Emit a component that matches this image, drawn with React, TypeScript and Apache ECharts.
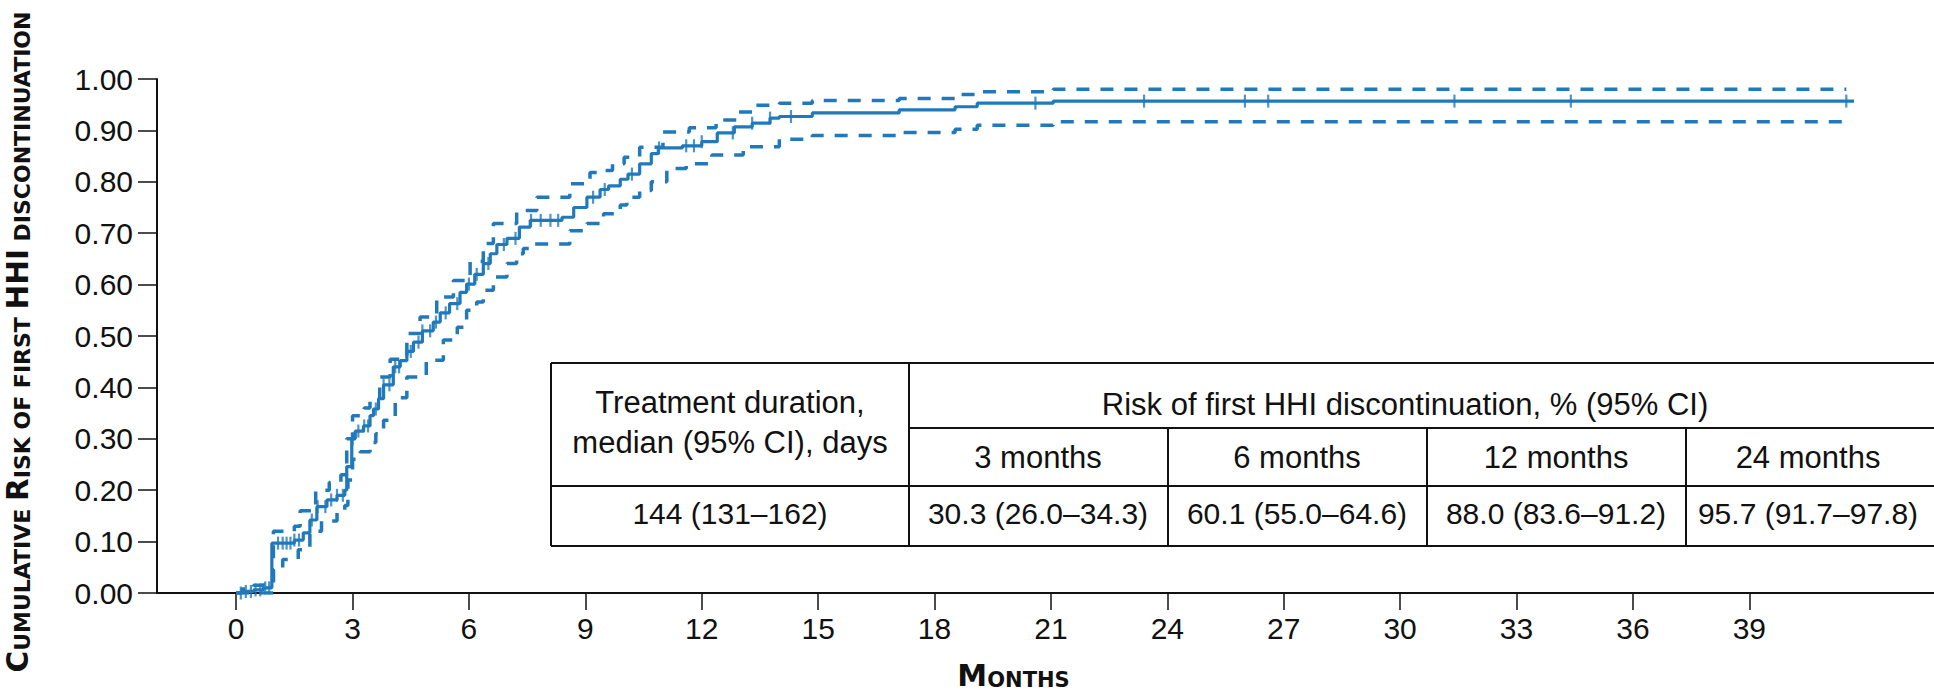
import { useEffect, useRef } from "react";
import * as echarts from "echarts";

// ---- data ----
const xTicks = [0, 3, 6, 9, 12, 15, 18, 21, 24, 27, 30, 33, 36, 39];

// cumulative risk estimate: [month, value after the step]
const estimate: [number, number][] = [
  [0, 0], [0.15, 0.003], [0.45, 0.006], [0.7, 0.01], [0.92, 0.097], [1.5, 0.103],
  [1.73, 0.117], [1.9, 0.142], [2.08, 0.168], [2.34, 0.181], [2.6, 0.19], [2.8, 0.2],
  [2.85, 0.246], [2.98, 0.3], [3.07, 0.315], [3.28, 0.325], [3.45, 0.345], [3.54, 0.358],
  [3.67, 0.378], [3.8, 0.405], [4.05, 0.44], [4.23, 0.452], [4.4, 0.47], [4.57, 0.488],
  [4.8, 0.51], [5.08, 0.527], [5.26, 0.545], [5.5, 0.563], [5.77, 0.585], [5.94, 0.601],
  [6.15, 0.62], [6.37, 0.641], [6.55, 0.66], [6.72, 0.678], [6.98, 0.69], [7.3, 0.712],
  [7.58, 0.725], [8.4, 0.731], [8.7, 0.75], [9.04, 0.77], [9.38, 0.785], [9.6, 0.792],
  [9.9, 0.805], [10.1, 0.815], [10.4, 0.835], [10.7, 0.855], [10.88, 0.866], [11.5, 0.87],
  [12.0, 0.878], [12.4, 0.895], [12.84, 0.907], [13.3, 0.914], [13.76, 0.924], [14.0, 0.927],
  [14.85, 0.934], [17.09, 0.94], [18.53, 0.946], [19.1, 0.953], [21.06, 0.957], [41.7, 0.957],
];

const upperCI: [number, number][] = [
  [0, 0], [0.15, 0.008], [0.45, 0.015], [0.7, 0.02], [0.96, 0.12], [1.5, 0.13],
  [1.65, 0.16], [2.05, 0.2], [2.4, 0.215], [2.7, 0.23], [2.85, 0.3], [3.0, 0.345],
  [3.3, 0.36], [3.45, 0.378], [3.7, 0.42], [3.97, 0.455], [4.4, 0.505], [4.74, 0.537],
  [5.17, 0.576], [5.6, 0.608], [6.03, 0.645], [6.37, 0.68], [6.63, 0.719], [7.23, 0.744],
  [7.75, 0.77], [8.6, 0.796], [9.12, 0.818], [9.38, 0.822], [9.7, 0.835], [10.0, 0.848],
  [10.4, 0.867], [11.0, 0.897], [11.68, 0.905], [12.37, 0.92], [12.94, 0.936], [13.4, 0.949],
  [14.0, 0.953], [14.85, 0.958], [17.09, 0.962], [18.53, 0.97], [19.1, 0.975], [21.06, 0.98],
  [41.5, 0.98],
];

const lowerCI: [number, number][] = [
  [0, 0], [0.96, 0.045], [1.2, 0.065], [1.6, 0.084], [1.9, 0.12], [2.2, 0.14],
  [2.6, 0.16], [2.8, 0.17], [2.88, 0.22], [3.0, 0.26], [3.2, 0.275], [3.45, 0.293],
  [3.6, 0.31], [3.8, 0.336], [4.1, 0.38], [4.4, 0.42], [4.9, 0.453], [5.34, 0.492],
  [5.7, 0.517], [5.94, 0.55], [6.2, 0.566], [6.37, 0.589], [6.63, 0.615], [6.98, 0.641],
  [7.23, 0.66], [7.4, 0.67], [7.58, 0.679], [8.6, 0.705], [9.04, 0.719], [9.47, 0.738],
  [9.9, 0.755], [10.07, 0.77], [10.4, 0.783], [10.7, 0.8], [11.1, 0.826], [11.6, 0.835],
  [12.26, 0.852], [13.07, 0.868], [14.0, 0.883], [14.85, 0.89], [17.09, 0.896], [18.53, 0.902],
  [19.1, 0.91], [21.06, 0.917], [41.5, 0.917],
];

// censored observations (months)
const censorTimes = [
  0.12, 0.25, 0.38, 0.5, 0.62, 0.75, 0.85, 1.08, 1.2, 1.3, 1.4, 1.5, 1.62, 1.95, 2.1, 2.3,
  2.45, 2.6, 2.75, 3.0, 3.15, 3.3, 3.4, 3.6, 3.8, 3.95, 4.1, 4.2, 4.4, 4.5, 4.7, 4.8, 5.0,
  5.15, 5.4, 5.7, 6.0, 6.2, 6.5, 6.9, 7.2, 7.6, 7.85, 8.1, 8.3, 9.2, 9.5, 10.2, 10.9, 11.6,
  11.8, 12.0, 12.8, 13.3, 13.76, 14.3, 20.6, 23.4, 26.0, 26.6, 31.4, 34.4, 41.5,
];

// table texts
const tableHeadLeft = ["Treatment duration,", "median (95% CI), days"];
const tableHeadRisk = "Risk of first HHI discontinuation, % (95% CI)";
const tableTimepoints = ["3 months", "6 months", "12 months", "24 months"];
const tableMedian = "144 (131–162)";
const tableRisk = ["30.3 (26.0–34.3)", "60.1 (55.0–64.6)", "88.0 (83.6–91.2)", "95.7 (91.7–97.8)"];

const BLUE = "#2079bb";
const INK = "#111111";
const SANS = "'Liberation Sans', Arial, sans-serif";
const TITLE_FONT = "'DejaVu Sans', sans-serif";

function stepValue(t: number): number {
  let v = 0;
  for (const [x, y] of estimate) {
    if (x <= t) v = y;
    else break;
  }
  return v;
}

function buildTable() {
  const L = 551, C1 = 909, R = 1934;
  const T = 363, R1 = 428, R2 = 486, B = 546;
  const cols = [C1, 1168, 1427, 1686];
  const tpCenters = [1038, 1297, 1556, 1808];
  const line = (x1: number, y1: number, x2: number, y2: number) => ({
    type: "line",
    shape: { x1, y1, x2, y2 },
    style: { stroke: INK, lineWidth: 2 },
    silent: true,
  });
  const text = (t: string, x: number, y: number, size = 31) => ({
    type: "text",
    x,
    y,
    style: {
      text: t,
      fill: INK,
      font: `${size}px ${SANS}`,
      align: "center",
      verticalAlign: "middle",
    },
    silent: true,
  });
  const els: any[] = [
    { type: "rect", shape: { x: L, y: T, width: R - L, height: B - T }, style: { fill: "#fff" }, silent: true },
    line(L, T, R, T),
    line(L, B, R, B),
    line(L, T, L, B),
    line(C1, T, C1, B),
    line(C1, R1, R, R1),
    line(L, R2, R, R2),
  ];
  cols.slice(1).forEach((c) => els.push(line(c, R1, c, B)));
  els.push(text(tableHeadLeft[0], 730, 402));
  els.push(text(tableHeadLeft[1], 730, 442));
  els.push(text(tableMedian, 730, 513, 30));
  els.push(text(tableHeadRisk, 1405, 404));
  tableTimepoints.forEach((t, i) => els.push(text(t, tpCenters[i], 457)));
  tableRisk.forEach((t, i) => els.push(text(t, tpCenters[i], 513, 30)));
  return els;
}

export default function App() {
  const ref = useRef<HTMLDivElement>(null);

  useEffect(() => {
    if (!ref.current) return;
    const chart = echarts.init(ref.current, undefined, { renderer: "svg" });
    const censorData = censorTimes.map((t) => [t, stepValue(t)]);

    const bigCap = { fontWeight: "bold", fontFamily: TITLE_FONT, color: INK, verticalAlign: "bottom" };

    const option: any = {
      animation: false,
      backgroundColor: "#ffffff",
      grid: {
        left: 157,
        right: 0,
        top: 79,
        bottom: 98,
        containLabel: false,
        outerBoundsMode: "none",
      },
      xAxis: {
        type: "value",
        min: -2.04,
        max: 43.76,
        axisLine: { show: true, onZero: false, lineStyle: { color: INK, width: 2 } },
        axisTick: { show: true, length: 17, customValues: xTicks, lineStyle: { color: INK, width: 1.5 } },
        axisLabel: {
          customValues: xTicks,
          fontSize: 30,
          fontFamily: SANS,
          color: INK,
          margin: 20,
        },
        splitLine: { show: false },
        name: "{b|M}{s|ONTHS}",
        nameLocation: "middle",
        nameGap: 67,
        nameTextStyle: {
          padding: [0, 64, 0, 0],
          rich: {
            b: { ...bigCap, fontSize: 30, lineHeight: 30 },
            s: { ...bigCap, fontSize: 21, lineHeight: 30 },
          },
        },
      },
      yAxis: {
        type: "value",
        min: 0,
        max: 1,
        interval: 0.1,
        axisLine: { show: true, onZero: false, lineStyle: { color: INK, width: 2 } },
        axisTick: { show: true, length: 19, lineStyle: { color: INK, width: 1.5 } },
        axisLabel: {
          formatter: (v: number) => v.toFixed(2),
          fontSize: 30,
          fontFamily: SANS,
          color: INK,
          margin: 24,
        },
        splitLine: { show: false },
        name: "{b|C}{s|UMULATIVE }{b|R}{s|ISK OF FIRST }{b|HHI}{s| DISCONTINUATION}",
        nameLocation: "middle",
        nameRotate: 90,
        nameGap: 124,
        nameTextStyle: {
          padding: [0, 12, 0, 0],
          rich: {
            b: { ...bigCap, fontSize: 29.5, lineHeight: 30 },
            s: { ...bigCap, fontSize: 22, lineHeight: 30 },
          },
        },
      },
      series: [
        {
          name: "Upper 95% CI",
          type: "line",
          data: upperCI,
          step: "end",
          symbol: "none",
          lineStyle: { color: BLUE, width: 3.5, type: [13, 11] },
          z: 2,
        },
        {
          name: "Lower 95% CI",
          type: "line",
          data: lowerCI,
          step: "end",
          symbol: "none",
          lineStyle: { color: BLUE, width: 3.5, type: [13, 11] },
          z: 2,
        },
        {
          name: "Cumulative risk",
          type: "line",
          data: estimate,
          step: "end",
          symbol: "none",
          lineStyle: { color: BLUE, width: 3.2 },
          z: 3,
        },
        {
          name: "Censored",
          type: "scatter",
          data: censorData,
          symbol: "rect",
          symbolSize: [2.2, 13],
          itemStyle: { color: BLUE },
          z: 4,
        },
      ],
      graphic: buildTable(),
    };

    chart.setOption(option);
    return () => chart.dispose();
  }, []);

  return (
    <div
      ref={ref}
      style={{ position: "absolute", left: 0, top: 0, width: 1934, height: 691, background: "#fff" }}
    />
  );
}
